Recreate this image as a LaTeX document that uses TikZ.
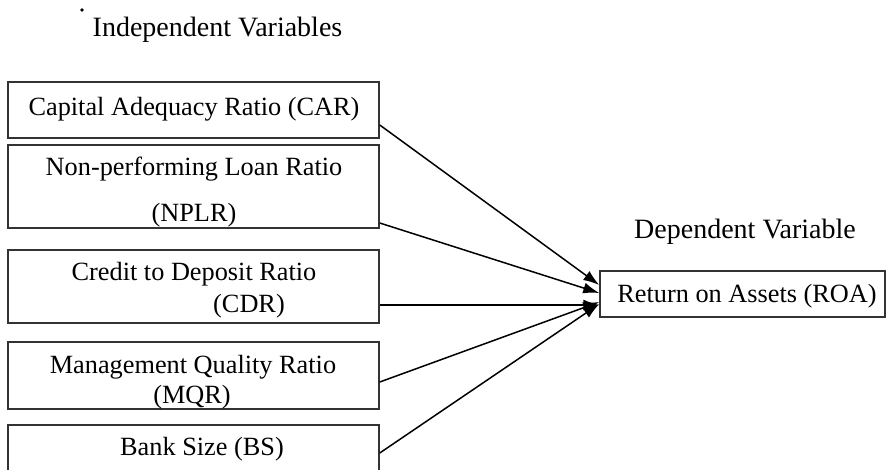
\documentclass[tikz,border=0pt]{standalone}
\usepackage{fontspec}
\setmainfont{Liberation Serif}
\usetikzlibrary{arrows.meta}
\pgfdeclarelayer{nodelayer}
\pgfdeclarelayer{edgelayer}
\pgfsetlayers{nodelayer,edgelayer,main}
\tikzset{
    box/.style = {draw=black!80, line width=1.5pt, inner sep=0pt, minimum width=371pt},
    txt/.style = {anchor=base, inner sep=0pt, font=\fontsize{26.3}{30}\selectfont},
    head/.style = {anchor=base, inner sep=0pt, font=\fontsize{28}{32}\selectfont},
    link/.style = {line width=1.5pt, -{Latex[length=16pt,width=11pt]}}
}
\begin{document}
\begin{tikzpicture}[x=1pt, y=-1pt]
  \useasboundingbox (0, 0) rectangle (887, 469);
  \begin{pgfonlayer}{nodelayer}
    \node [style=box, minimum height=56pt] (car) at (193.5, 110) {};
    \node [style=box, minimum height=83pt] (nplr) at (193.5, 186.5) {};
    \node [style=box, minimum height=73pt] (cdr) at (193.5, 286.5) {};
    \node [style=box, minimum height=67pt] (mqr) at (193.5, 375.5) {};
    \node [style=box, minimum height=54pt] (bs) at (193.5, 452) {};
    \node [style=box, minimum width=285pt, minimum height=46pt] (roa) at (742.5, 294) {};
    \node [style=head] (indep) at (217.5, 36) {Independent Variables};
    \node [style=head] (dep) at (745, 238) {Dependent Variable};
    \node [style=txt] (t1) at (194, 115) {Capital Adequacy Ratio (CAR)};
    \node [style=txt] (t2) at (194, 175) {Non-performing Loan Ratio};
    \node [style=txt] (t3) at (194, 221) {(NPLR)};
    \node [style=txt] (t4) at (194, 280) {Credit to Deposit Ratio};
    \node [style=txt] (t5) at (249, 312.5) {(CDR)};
    \node [style=txt] (t6) at (193, 373) {Management Quality Ratio};
    \node [style=txt] (t7) at (192, 403) {(MQR)};
    \node [style=txt] (t8) at (202, 455) {Bank Size (BS)};
    \node [style=txt] (t9) at (747, 302) {Return on Assets (ROA)};
  \end{pgfonlayer}
  \begin{pgfonlayer}{edgelayer}
    \draw [style=link] ([yshift=-15pt]car.east) to ([yshift=9pt]roa.west);
    \draw [style=link] ([yshift=-36.5pt]nplr.east) to ([yshift=1pt]roa.west);
    \draw [style=link] ([yshift=-18.5pt]cdr.east) to ([yshift=-11pt]roa.west);
    \draw [style=link] ([yshift=-6.5pt]mqr.east) to ([yshift=-8pt]roa.west);
    \draw [style=link] ([yshift=-1pt]bs.east) to ([yshift=-10pt]roa.west);
  \end{pgfonlayer}
  \fill (82, 10) circle (1.8pt);
\end{tikzpicture}
\end{document}
